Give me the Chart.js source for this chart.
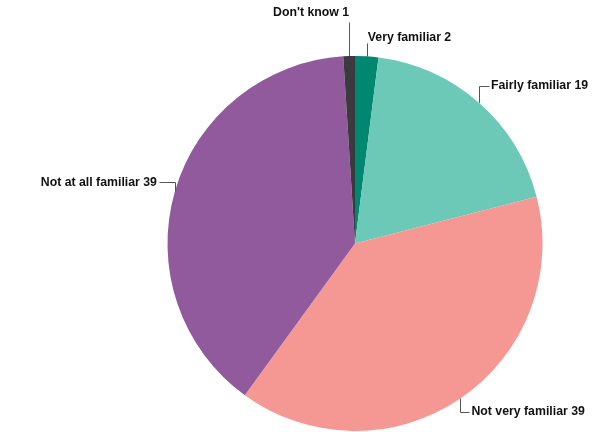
<!DOCTYPE html>
<html>
<head>
<meta charset="utf-8">
<script src="https://cdn.jsdelivr.net/npm/chart.js@4/dist/chart.umd.min.js"></script>
<style>
html,body{margin:0;padding:0;background:#fff;}
#wrap{width:594px;height:432px;position:relative;}
</style>
</head>
<body>
<div id="wrap"><canvas id="c" width="594" height="432"></canvas></div>
<script>
const categories = ["Very familiar", "Fairly familiar", "Not very familiar", "Not at all familiar", "Don't know"];
const values = [2, 19, 39, 39, 1];
const colors = ["#00876f", "#6cc8b7", "#f59893", "#915a9c", "#3b3a3f"];

// leader-line layout per label: elbow = vertical rise/fall (dy) then horizontal run (dx), text side
const labelLayout = [
  {dy: -13, dx: 0, align: "left", tx: 1, ty: -6},
  {dy: -17, dx: 10, align: "left", tx: 2, ty: 0},
  {dy: 13, dx: 9, align: "left", tx: 2, ty: 0},
  {dy: -9, dx: -16, align: "right", tx: -2, ty: 0},
  {dy: -34, dx: 0, align: "right", tx: 0, ty: -9}
];

const leaderPlugin = {
  id: "leaders",
  afterDatasetsDraw(chart) {
    const ctx = chart.ctx;
    const meta = chart.getDatasetMeta(0);
    ctx.save();
    ctx.font = "bold 12.3px 'Liberation Sans', Arial, sans-serif";
    ctx.textBaseline = "middle";
    meta.data.forEach((arc, i) => {
      const p = arc.getProps(["x", "y", "startAngle", "endAngle", "outerRadius"], true);
      const a = (p.startAngle + p.endAngle) / 2;
      const x0 = p.x + Math.cos(a) * p.outerRadius;
      const y0 = p.y + Math.sin(a) * p.outerRadius;
      const L = labelLayout[i];
      const x1 = x0, y1 = y0 + L.dy;
      const x2 = x1 + L.dx, y2 = y1;
      ctx.strokeStyle = "#555";
      ctx.lineWidth = 1;
      ctx.beginPath();
      ctx.moveTo(Math.round(x0) + 0.5, y0);
      ctx.lineTo(Math.round(x1) + 0.5, Math.round(y1) + 0.5);
      ctx.lineTo(Math.round(x2) + 0.5, Math.round(y2) + 0.5);
      ctx.stroke();
      ctx.fillStyle = "#111";
      ctx.textAlign = L.align;
      ctx.fillText(categories[i] + " " + values[i], x2 + L.tx, y2 + L.ty);
    });
    ctx.restore();
  }
};

new Chart(document.getElementById("c"), {
  type: "pie",
  data: {
    labels: categories,
    datasets: [{
      data: values,
      backgroundColor: colors,
      borderWidth: 0
    }]
  },
  options: {
    responsive: false,
    animation: false,
    layout: {padding: {top: 56, bottom: 1, left: 167, right: 51}},
    plugins: {legend: {display: false}, tooltip: {enabled: false}}
  },
  plugins: [leaderPlugin]
});
</script>
</body>
</html>
